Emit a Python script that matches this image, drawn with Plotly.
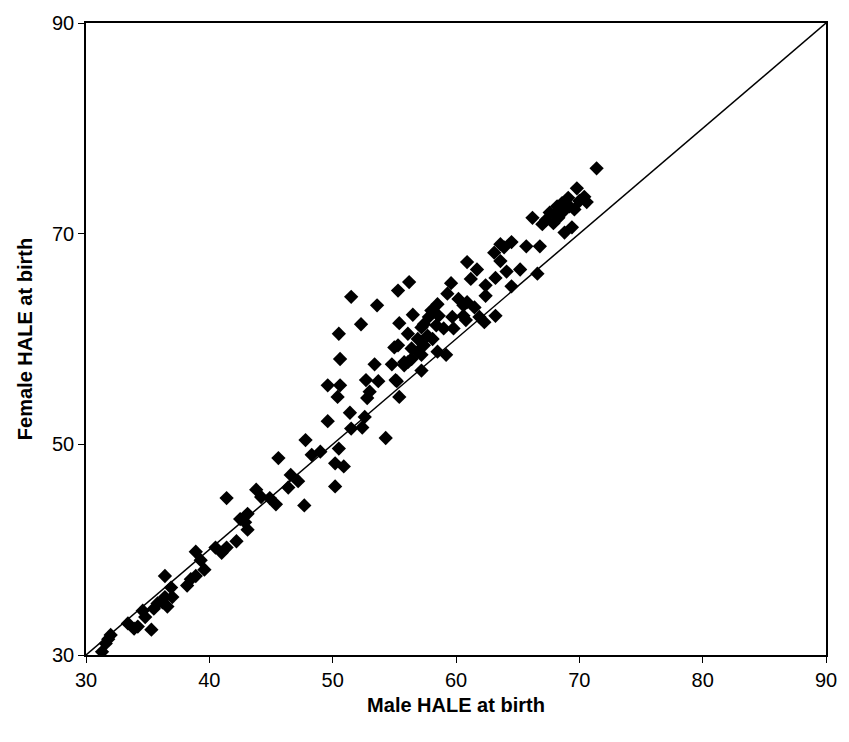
import plotly.graph_objects as go

male = [31.3, 31.6, 32.0, 33.9, 34.2, 35.3, 34.6, 34.8, 35.5, 35.8, 36.2, 36.6, 36.4, 36.4, 36.9,
        38.2, 38.5, 38.9, 38.9, 39.3, 39.6, 40.5, 41.0, 41.4, 42.2, 41.4, 42.5, 43.1, 43.1, 42.9,
        43.8, 44.9, 45.4, 45.6, 46.6, 47.2, 46.4, 47.7, 47.8, 49.0, 50.5, 50.2, 50.9, 50.2,
        49.6, 51.5, 52.4, 54.3, 51.4, 52.6, 49.6, 50.6, 50.4, 52.8, 52.7, 53.7, 53.4, 50.6, 50.5,
        51.5, 53.6, 52.3, 55.3, 56.2,
        55.0, 55.8, 55.2, 55.4, 57.2, 54.8, 55.1, 55.4, 56.5, 56.1, 55.3, 56.4, 57.4, 58.5, 59.2,
        56.1, 56.9, 56.4, 57.2, 55.8, 57.7, 56.9, 57.4, 58.4, 59.0, 57.2, 59.8, 58.0, 58.6, 57.8,
        59.7, 60.6, 60.8, 61.9, 62.3, 63.2, 58.5, 59.3, 60.2, 60.6, 60.9, 62.4, 59.6, 61.2, 62.4,
        63.2, 64.5, 64.1, 60.9, 61.7, 63.6, 63.1, 65.2, 66.6, 63.6, 63.9, 64.5, 65.7, 66.8, 66.2,
        67.6, 67.9, 68.2, 68.7, 69.2, 68.3, 68.8, 69.4, 69.8, 70.4, 70.0, 71.4,
        67.3, 68.0, 69.6, 70.6, 69.1, 67.0, 68.6, 31.8, 33.4, 37.0, 44.2, 48.3, 53.0, 58.1, 61.5]
female = [30.3, 31.1, 31.9, 32.5, 32.7, 32.4, 34.2, 33.6, 34.4, 34.9, 35.0, 34.6, 35.5, 37.5, 36.4,
          36.6, 37.2, 37.5, 39.8, 39.0, 38.1, 40.2, 39.7, 40.2, 40.8, 44.9, 42.9, 43.4, 41.9, 42.6,
          45.7, 44.9, 44.3, 48.7, 47.1, 46.5, 45.9, 44.2, 50.4, 49.3, 49.6, 48.2, 47.9, 46.0,
          52.2, 51.5, 51.6, 50.6, 53.0, 52.6, 55.6, 55.6, 54.5, 54.4, 56.1, 56.0, 57.6, 58.1, 60.5,
          64.0, 63.2, 61.4, 64.6, 65.4,
          59.2, 57.8, 56.0, 54.5, 57.0, 57.6, 56.1, 61.5, 62.3, 60.5, 59.4, 59.1, 59.4, 58.8, 58.5,
          57.8, 58.8, 58.1, 58.5, 57.5, 60.3, 60.0, 61.4, 61.3, 61.0, 61.1, 61.0, 62.7, 62.2, 62.1,
          62.1, 62.2, 61.8, 62.1, 61.6, 62.2, 63.3, 64.3, 63.8, 63.2, 63.5, 64.1, 65.3, 65.7, 65.1,
          65.8, 65.0, 66.4, 67.3, 66.6, 67.4, 68.2, 66.6, 66.2, 69.0, 68.7, 69.2, 68.8, 68.8, 71.5,
          72.0, 71.0, 72.6, 72.1, 72.6, 71.5, 70.1, 70.6, 74.3, 73.5, 73.1, 76.2,
          71.3, 71.8, 72.3, 73.0, 73.4, 70.9, 72.9, 31.5, 33.0, 35.5, 45.0, 49.0, 55.0, 60.0, 63.0]

line_x = [30, 90]
line_y = [30, 90]

font = "Arial, Liberation Sans, sans-serif"

fig = go.Figure()
fig.add_trace(go.Scatter(x=line_x, y=line_y, mode="lines",
                         line=dict(color="black", width=1.5), showlegend=False, hoverinfo="skip"))
fig.add_trace(go.Scatter(x=male, y=female, mode="markers",
                         marker=dict(symbol="diamond", size=11, color="black"),
                         showlegend=False))

axis_common = dict(showgrid=False, zeroline=False, showline=True, linecolor="black", linewidth=1.5,
                   mirror=True, ticks="outside", ticklen=6, tickcolor="black", tickwidth=1,
                   tickfont=dict(family=font, size=20, color="black"))

fig.update_xaxes(range=[30, 90], tickvals=[30, 40, 50, 60, 70, 80, 90],
                 title=dict(text="<b>Male HALE at birth</b>", font=dict(family=font, size=20, color="black"),
                            standoff=8),
                 **axis_common)
fig.update_yaxes(range=[30, 90], tickvals=[30, 50, 70, 90],
                 title=dict(text="<b>Female HALE at birth</b>", font=dict(family=font, size=20, color="black"),
                            standoff=14),
                 **axis_common)

fig.update_layout(width=849, height=742, margin=dict(l=86, r=18, t=19, b=87),
                  plot_bgcolor="white", paper_bgcolor="white")

fig.write_html("out.html")
